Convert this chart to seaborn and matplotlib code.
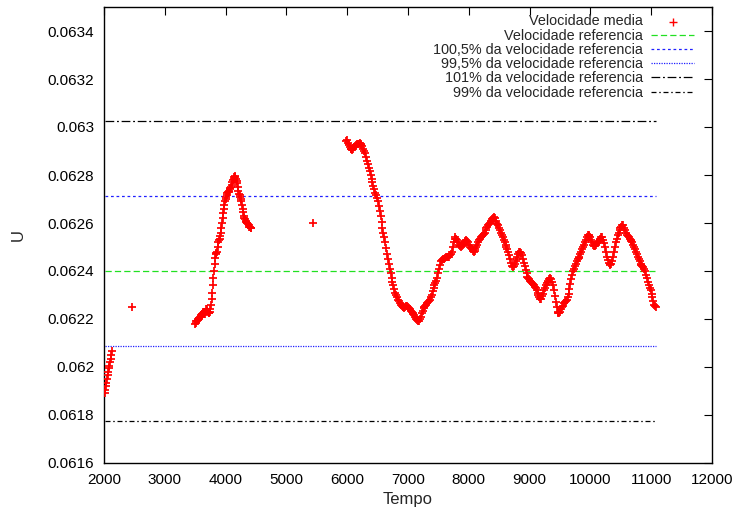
import numpy as np
import pandas as pd
import seaborn as sns
import matplotlib
matplotlib.use("Agg")
import matplotlib.pyplot as plt
from matplotlib.ticker import FuncFormatter

# ---- measured mean velocity -------------------------------------------
# segment 1: start-up, sampled every 10 time units from t=2010
u_seg1 = [0.061890, 0.061905, 0.061920, 0.061935, 0.061950, 0.061965, 0.061980,
          0.061995, 0.062005, 0.062020, 0.062035, 0.062050, 0.062065]
t_seg1 = np.arange(2010, 2010 + 10 * len(u_seg1), 10)

# isolated samples
t_single = [2460, 5440]
u_single = [0.06225, 0.06260]

# segment 2, sampled every 10 time units from t=3500
u_seg2 = [
    0.062180, 0.062185, 0.062190, 0.062190, 0.062195, 0.062200, 0.062200, 0.062205,
    0.062210, 0.062210, 0.062215, 0.062220, 0.062220, 0.062225, 0.062230, 0.062225,
    0.062220, 0.062230, 0.062240, 0.062240, 0.062235, 0.062230, 0.062225, 0.062225,
    0.062230, 0.062240, 0.062260, 0.062285, 0.062310, 0.062340, 0.062370, 0.062400,
    0.062430, 0.062455, 0.062470, 0.062475, 0.062480, 0.062500, 0.062520, 0.062530,
    0.062535, 0.062545, 0.062560, 0.062580, 0.062600, 0.062620, 0.062640, 0.062660,
    0.062675, 0.062690, 0.062700, 0.062710, 0.062715, 0.062725, 0.062730, 0.062730,
    0.062735, 0.062740, 0.062745, 0.062750, 0.062760, 0.062770, 0.062780, 0.062785,
    0.062790, 0.062795, 0.062790, 0.062785, 0.062775, 0.062765, 0.062750, 0.062735,
    0.062720, 0.062715, 0.062710, 0.062700, 0.062690, 0.062675, 0.062660, 0.062645,
    0.062630, 0.062620, 0.062615, 0.062610, 0.062605, 0.062600, 0.062600, 0.062595,
    0.062590, 0.062585, 0.062585, 0.062580, 0.062580,
]
t_seg2 = np.arange(3500, 3500 + 10 * len(u_seg2), 10)

# segment 3, sampled every 15 time units from t=5980
u_seg3 = [
    0.062940, 0.062945, 0.062935, 0.062925, 0.062915, 0.062910, 0.062910, 0.062905,
    0.062910, 0.062915, 0.062920, 0.062925, 0.062930, 0.062930, 0.062930, 0.062935,
    0.062930, 0.062925, 0.062920, 0.062910, 0.062900, 0.062890, 0.062875, 0.062860,
    0.062845, 0.062830, 0.062815, 0.062800, 0.062785, 0.062770, 0.062755, 0.062740,
    0.062725, 0.062715, 0.062705, 0.062690, 0.062670, 0.062650, 0.062630, 0.062605,
    0.062580, 0.062560, 0.062540, 0.062520, 0.062495, 0.062470, 0.062450, 0.062430,
    0.062410, 0.062390, 0.062370, 0.062355, 0.062340, 0.062325, 0.062310, 0.062300,
    0.062290, 0.062280, 0.062275, 0.062265, 0.062260, 0.062255, 0.062250, 0.062250,
    0.062245, 0.062250, 0.062255, 0.062255, 0.062250, 0.062245, 0.062240, 0.062235,
    0.062230, 0.062225, 0.062220, 0.062215, 0.062210, 0.062200, 0.062195, 0.062190,
    0.062190, 0.062200, 0.062210, 0.062225, 0.062235, 0.062245, 0.062250, 0.062255,
    0.062260, 0.062265, 0.062270, 0.062275, 0.062280, 0.062290, 0.062300, 0.062315,
    0.062330, 0.062340, 0.062350, 0.062360, 0.062370, 0.062390, 0.062410, 0.062425,
    0.062440, 0.062445, 0.062450, 0.062450, 0.062450, 0.062455, 0.062460, 0.062460,
    0.062460, 0.062460, 0.062465, 0.062470, 0.062480, 0.062500, 0.062520, 0.062535,
    0.062540, 0.062535, 0.062530, 0.062520, 0.062510, 0.062505, 0.062500, 0.062505,
    0.062510, 0.062515, 0.062520, 0.062525, 0.062530, 0.062525, 0.062520, 0.062510,
    0.062500, 0.062495, 0.062490, 0.062485, 0.062480, 0.062485, 0.062490, 0.062500,
    0.062510, 0.062520, 0.062530, 0.062535, 0.062540, 0.062545, 0.062550, 0.062555,
    0.062560, 0.062570, 0.062580, 0.062585, 0.062590, 0.062595, 0.062600, 0.062610,
    0.062615, 0.062620, 0.062625, 0.062620, 0.062610, 0.062600, 0.062595, 0.062590,
    0.062580, 0.062570, 0.062560, 0.062550, 0.062540, 0.062530, 0.062520, 0.062510,
    0.062500, 0.062490, 0.062480, 0.062465, 0.062450, 0.062435, 0.062420, 0.062415,
    0.062420, 0.062430, 0.062440, 0.062450, 0.062460, 0.062470, 0.062480, 0.062480,
    0.062475, 0.062465, 0.062450, 0.062435, 0.062420, 0.062405, 0.062390, 0.062375,
    0.062370, 0.062365, 0.062360, 0.062355, 0.062350, 0.062345, 0.062340, 0.062335,
    0.062330, 0.062320, 0.062310, 0.062300, 0.062290, 0.062285, 0.062285, 0.062295,
    0.062305, 0.062320, 0.062330, 0.062340, 0.062350, 0.062355, 0.062360, 0.062365,
    0.062370, 0.062365, 0.062355, 0.062340, 0.062320, 0.062295, 0.062270, 0.062250,
    0.062230, 0.062225, 0.062225, 0.062230, 0.062240, 0.062250, 0.062255, 0.062265,
    0.062270, 0.062275, 0.062280, 0.062290, 0.062305, 0.062325, 0.062345, 0.062365,
    0.062385, 0.062400, 0.062410, 0.062420, 0.062430, 0.062440, 0.062450, 0.062455,
    0.062460, 0.062470, 0.062480, 0.062490, 0.062500, 0.062510, 0.062520, 0.062530,
    0.062540, 0.062550, 0.062550, 0.062545, 0.062540, 0.062530, 0.062520, 0.062510,
    0.062505, 0.062505, 0.062510, 0.062515, 0.062520, 0.062525, 0.062530, 0.062535,
    0.062540, 0.062540, 0.062530, 0.062515, 0.062500, 0.062480, 0.062460, 0.062445,
    0.062435, 0.062430, 0.062425, 0.062430, 0.062440, 0.062460, 0.062480, 0.062500,
    0.062520, 0.062535, 0.062550, 0.062560, 0.062570, 0.062580, 0.062585, 0.062590,
    0.062590, 0.062580, 0.062570, 0.062560, 0.062550, 0.062545, 0.062540, 0.062535,
    0.062530, 0.062525, 0.062520, 0.062510, 0.062500, 0.062490, 0.062480, 0.062470,
    0.062460, 0.062450, 0.062440, 0.062430, 0.062425, 0.062420, 0.062415, 0.062410,
    0.062400, 0.062385, 0.062370, 0.062355, 0.062340, 0.062330, 0.062320, 0.062305,
    0.062290, 0.062275, 0.062260, 0.062255, 0.062250,
]
t_seg3 = np.arange(5980, 5980 + 15 * len(u_seg3), 15)

# ---- reference velocity and tolerance bands ----------------------------
u_ref = 0.0624
band_labels = [
    "Velocidade referencia",
    "100,5% da velocidade referencia",
    "99,5% da velocidade referencia",
    "101% da velocidade referencia",
    "99% da velocidade referencia",
]
band_factors = [1.0, 1.005, 0.995, 1.01, 0.99]

x_ticks = np.arange(2000, 12001, 1000)
y_ticks = np.arange(0.0616, 0.06345, 0.0002)

df = pd.DataFrame({
    "Tempo": np.concatenate([t_seg1, t_single[:1], t_seg2, t_single[1:], t_seg3]),
    "U": np.concatenate([u_seg1, u_single[:1], u_seg2, u_single[1:], u_seg3]),
})

sns.set_style("white")
plt.rcParams["font.family"] = ["Liberation Sans", "DejaVu Sans"]
plt.rcParams["font.size"] = 11

fig = plt.figure(figsize=(7.37, 5.12), dpi=100)
ax = fig.add_axes([104 / 737, 1 - 463 / 512, (712 - 104) / 737, (463 - 7) / 512])

sns.scatterplot(data=df, x="Tempo", y="U", marker="+", color="#ff0000",
                s=40, linewidth=1.25, ax=ax, label="Velocidade media", zorder=3)

band_styles = [
    dict(color="#22e022", dashes=(5, 2.5)),
    dict(color="#2020ff", dashes=(2.2, 2.2)),
    dict(color="#2020ff", dashes=(1.0, 1.0)),
    dict(color="#000000", dashes=(7, 2.2, 1.5, 2.2)),
    dict(color="#000000", dashes=(4, 2.2, 1.2, 2.2)),
]
x_span = [df["Tempo"].min(), df["Tempo"].max()]
for lab, fac, st in zip(band_labels, band_factors, band_styles):
    ax.plot(x_span, [u_ref * fac] * 2, lw=0.9, label=lab, **st)

ax.set_xlim(2000, 12000)
ax.set_ylim(0.0616, 0.0635)
ax.set_xticks(x_ticks)
ax.set_yticks(y_ticks)
ax.yaxis.set_major_formatter(FuncFormatter(lambda v, p: f"{v:.4f}".rstrip("0")))
ax.tick_params(direction="in", length=6, width=0.8, top=True, right=True,
               labelsize=11, pad=7, colors="black")
for sp in ax.spines.values():
    sp.set_linewidth(1.0)
    sp.set_color("black")

ax.set_xlabel("Tempo", fontsize=12, labelpad=4)
ax.set_ylabel("U", fontsize=12, labelpad=16)

leg = ax.legend(loc="upper right", bbox_to_anchor=(0.985, 1.003), frameon=False,
                markerfirst=False, handlelength=3.0, handletextpad=0.55,
                labelspacing=0.02, fontsize=10.4, borderaxespad=0.2, markerscale=1.0)
leg.legend_handles[0].set_linewidth(1.0)

fig.savefig("out.png", dpi=100)
